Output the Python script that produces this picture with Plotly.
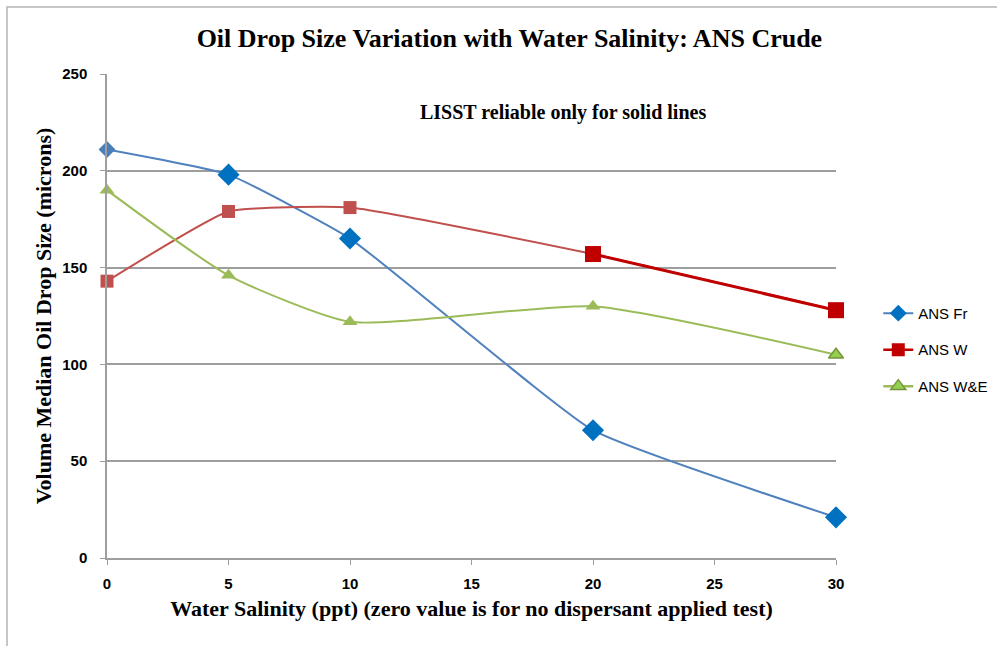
import plotly.graph_objects as go

# Water salinity (ppt); 0 = no dispersant applied
salinity = [0, 5, 10, 20, 30]

# Volume median oil drop size (microns)
ans_fr = [211, 198, 165, 66, 21]
ans_w = [143, 179, 181, 157, 128]
ans_we = [190, 146, 122, 130, 105]

series_names = ["ANS Fr", "ANS W", "ANS W&E"]
y_ticks = [0, 50, 100, 150, 200, 250]
x_ticks = [0, 5, 10, 15, 20, 25, 30]

serif = "Liberation Serif, Times New Roman, serif"
sans = "Liberation Sans, Arial, sans-serif"
SMOOTH = 0.4

fig = go.Figure()

# ---- ANS Fr ----
fig.add_trace(go.Scatter(
    x=salinity, y=ans_fr, mode="lines",
    line=dict(color="#4F81BD", width=2, shape="spline", smoothing=SMOOTH),
    showlegend=False, hoverinfo="skip", cliponaxis=False))
fig.add_trace(go.Scatter(
    x=salinity, y=ans_fr, mode="markers", showlegend=False, cliponaxis=False,
    marker=dict(symbol="diamond", size=[13, 17, 17, 17, 17], opacity=1,
                color=["#4A7EBB", "#0070C0", "#0070C0", "#0070C0", "#0070C0"],
                line=dict(width=0))))

# ---- ANS W ----
fig.add_trace(go.Scatter(
    x=salinity, y=ans_w, mode="lines",
    line=dict(color="#C0504D", width=2, shape="spline", smoothing=SMOOTH),
    showlegend=False, hoverinfo="skip", cliponaxis=False))
fig.add_trace(go.Scatter(
    x=salinity[3:], y=ans_w[3:], mode="lines", line=dict(color="#C00000", width=3),
    showlegend=False, hoverinfo="skip", cliponaxis=False))
fig.add_trace(go.Scatter(
    x=salinity, y=ans_w, mode="markers", showlegend=False, cliponaxis=False,
    marker=dict(symbol="square", size=[13, 13, 13, 16, 16], opacity=1,
                color=["#C0504D", "#C0504D", "#C0504D", "#C00000", "#C00000"],
                line=dict(width=0))))

# ---- ANS W&E ----
fig.add_trace(go.Scatter(
    x=salinity, y=ans_we, mode="lines",
    line=dict(color="#9BBB59", width=2, shape="spline", smoothing=0.55),
    showlegend=False, hoverinfo="skip", cliponaxis=False))
fig.add_trace(go.Scatter(
    x=salinity, y=ans_we, mode="markers", showlegend=False, cliponaxis=False,
    marker=dict(symbol="triangle-up", size=[13, 13, 13, 13, 13], opacity=1,
                color=["#9BBB59", "#9BBB59", "#9BBB59", "#9BBB59", "#92D050"],
                line=dict(width=[0, 0, 0, 0, 1.5], color="#77933C"))))

# ---- legend entries ----
legend_styles = [
    dict(line=dict(color="#4F81BD", width=2), marker=dict(symbol="diamond", size=13, color="#0070C0")),
    dict(line=dict(color="#C00000", width=2.5), marker=dict(symbol="square", size=13, color="#C00000")),
    dict(line=dict(color="#9BBB59", width=2.5),
         marker=dict(symbol="triangle-up", size=13, color="#92D050", line=dict(width=1.5, color="#77933C"))),
]
for i, (name, sty) in enumerate(zip(series_names, legend_styles)):
    fig.add_trace(go.Scatter(x=[None], y=[None], mode="lines+markers", name=name,
                             legendgroup=f"g{i}", **sty))

fig.add_annotation(
    x=18.77, y=230, xref="x", yref="y", showarrow=False,
    text="<b>LISST reliable only for solid lines</b>",
    font=dict(family=serif, size=20, color="black"))

# chart-area border
fig.add_shape(type="rect", xref="paper", yref="paper",
              x0=-0.1372, x1=1.23, y0=-0.2, y1=1.1384,
              line=dict(color="#B4B4B4", width=1.5), fillcolor="rgba(0,0,0,0)", layer="below")

fig.update_layout(
    width=997, height=646,
    margin=dict(l=107, r=161, t=74, b=88, autoexpand=False),
    paper_bgcolor="white", plot_bgcolor="white",
    title=dict(text="<b>Oil Drop Size Variation with Water Salinity: ANS Crude</b>",
               x=0.552, xref="paper", xanchor="center", y=0.941, yanchor="middle",
               font=dict(family=serif, size=26, color="black")),
    legend=dict(x=1.058, y=0.43, xanchor="left", yanchor="middle", traceorder="grouped",
                tracegroupgap=14, font=dict(family=sans, size=15, color="black"),
                bgcolor="rgba(0,0,0,0)"),
    xaxis=dict(range=[0, 30], tickvals=x_ticks, ticktext=[str(v) for v in x_ticks],
               showgrid=False, zeroline=False, showline=True, linecolor="#9E9E9E", linewidth=1.5,
               ticks="outside", ticklen=5, tickcolor="#9E9E9E", ticklabelstandoff=6,
               tickfont=dict(family=sans, size=15, color="black", weight="bold"),
               title=dict(text="<b>Water Salinity (ppt) (zero value is for no dispersant applied test)</b>",
                          font=dict(family=serif, size=22, color="black"), standoff=10)),
    yaxis=dict(range=[0, 250], tickvals=y_ticks, ticktext=[str(v) for v in y_ticks],
               showgrid=True, gridcolor="#9E9E9E", gridwidth=1.5, zeroline=False,
               showline=True, linecolor="#9E9E9E", linewidth=1.5,
               ticks="outside", ticklen=5, tickcolor="#9E9E9E", ticklabelstandoff=10,
               tickfont=dict(family=sans, size=15, color="black", weight="bold"),
               title=dict(text="<b>Volume Median Oil Drop Size (microns)</b>",
                          font=dict(family=serif, size=22, color="black"), standoff=5)),
)

fig.write_html("out.html")
